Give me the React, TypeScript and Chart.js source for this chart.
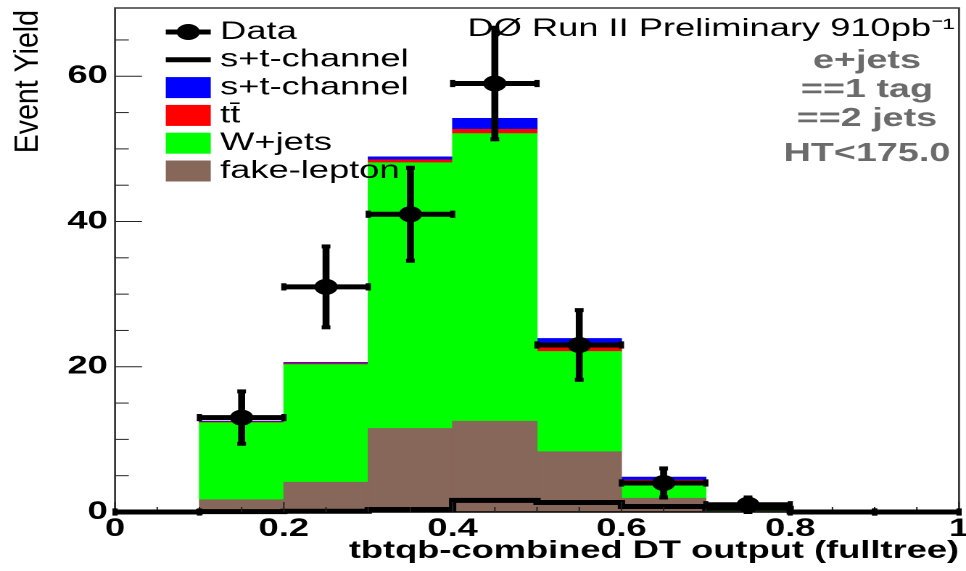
import React, { useEffect, useRef } from 'react';
import { Chart, registerables } from 'chart.js';

Chart.register(...registerables);

// ---------------- data ----------------
const binEdges = [0, 0.1, 0.2, 0.3, 0.4, 0.5, 0.6, 0.7, 0.8, 0.9, 1.0];
const binCenters = [0.05, 0.15, 0.25, 0.35, 0.45, 0.55, 0.65, 0.75, 0.85, 0.95];
const fakeLepton = [0, 1.7, 4.1, 11.5, 12.5, 8.3, 1.9, 0.1, 0, 0];
const wJets = [0, 10.6, 16.2, 36.6, 39.6, 13.8, 2.3, 0.3, 0, 0];
const ttbar = [0, 0.1, 0.15, 0.4, 0.6, 0.6, 0.2, 0.05, 0, 0];
const stChannel = [0, 0.1, 0.15, 0.4, 1.5, 1.2, 0.4, 0.25, 0, 0];
const stChannelLine = [0, 0.05, 0.1, 0.35, 1.6, 1.3, 0.75, 0.5, 0, 0];
const dataCounts = [0, 13, 31, 41, 59, 23, 4, 1, 0, 0];
const xTickValues = [0, 0.2, 0.4, 0.6, 0.8, 1];
const yTickValues = [0, 20, 40, 60];
const infoLines = ['e+jets', '==1 tag', '==2 jets', 'HT<175.0'];
const headerText = 'DØ Run II Preliminary 910pb⁻¹';
const xTitle = 'tbtqb-combined DT output (fulltree)';
const yTitle = 'Event Yield';

// ---------------- style ----------------
const CANVAS_W = 666;
const CANVAS_H = 571;
const STRETCH = 966 / CANVAS_W;
const FONT = "'Liberation Sans', Arial, Helvetica, sans-serif";
const BROWN = '#87675a';
const GREEN = '#00ff00';
const RED = '#ff0000';
const BLUE = '#0000ff';
const GRAY_TEXT = '#6b6b6b';
const Y_MAX = 69.4;

const hepPlugin = {
  id: 'hepDecor',
  afterDatasetsDraw(chart: any) {
    const { ctx, chartArea: a, scales } = chart;
    const xs = scales.x;
    const ys = scales.y;
    ctx.save();

    // axis frame
    ctx.strokeStyle = '#3a3a3a';
    ctx.lineWidth = 1.4;
    ctx.beginPath();
    ctx.moveTo(a.left, a.bottom);
    ctx.lineTo(a.left, a.top);
    ctx.lineTo(a.right, a.top);
    ctx.lineTo(a.right, a.bottom);
    ctx.stroke();
    ctx.strokeStyle = '#000';
    ctx.beginPath();
    ctx.moveTo(a.left, a.bottom);
    ctx.lineTo(a.right, a.bottom);
    ctx.stroke();

    // ticks (pointing inward)
    ctx.lineWidth = 1;
    ctx.strokeStyle = '#222';
    for (let v = 0; v <= ys.max + 1e-9; v += 5) {
      const py = ys.getPixelForValue(v);
      const len = yTickValues.includes(v) ? 18.6 : 9.5;
      ctx.beginPath();
      ctx.moveTo(a.left, py);
      ctx.lineTo(a.left + len, py);
      ctx.stroke();
    }
    for (let k = 0; k <= 20; k++) {
      const v = k * 0.05;
      const px = xs.getPixelForValue(v);
      const len = k % 4 === 0 ? 10 : 5;
      ctx.beginPath();
      ctx.moveTo(px, a.bottom);
      ctx.lineTo(px, a.bottom - len);
      ctx.stroke();
    }

    // data error bars
    ctx.fillStyle = '#000';
    ctx.strokeStyle = '#000';
    ctx.lineCap = 'butt';
    dataCounts.forEach((n, i) => {
      const xl = xs.getPixelForValue(binEdges[i]);
      const xr = xs.getPixelForValue(binEdges[i + 1]);
      const xc = xs.getPixelForValue(binCenters[i]);
      const yc = ys.getPixelForValue(n);
      const err = Math.sqrt(n);
      ctx.lineWidth = 5;
      ctx.beginPath();
      ctx.moveTo(xl, yc);
      ctx.lineTo(xr, yc);
      ctx.stroke();
      ctx.fillRect(xl - 1.8, yc - 3.6, 3.6, 7.2);
      ctx.fillRect(xr - 1.8, yc - 3.6, 3.6, 7.2);
      if (err > 0) {
        const yt = ys.getPixelForValue(n + err);
        const yb = ys.getPixelForValue(n - err);
        ctx.lineWidth = 4.8;
        ctx.beginPath();
        ctx.moveTo(xc, yt);
        ctx.lineTo(xc, yb);
        ctx.stroke();
        ctx.fillRect(xc - 3, yt - 2, 6, 4);
        ctx.fillRect(xc - 3, yb - 2, 6, 4);
      }
    });

    // legend
    const ds = chart.data.datasets;
    const legendOrder = [0, 1, 5, 4, 3, 2];
    const sx0 = a.left + 35;
    const sx1 = a.left + 66;
    const tx = a.left + 72.5;
    ctx.font = `25px ${FONT}`;
    ctx.textAlign = 'left';
    ctx.textBaseline = 'middle';
    legendOrder.forEach((di, r) => {
      const d = ds[di];
      const cy = a.top + 24 + r * 27.8;
      if (d.type === 'scatter') {
        ctx.lineWidth = 5;
        ctx.strokeStyle = '#000';
        ctx.beginPath();
        ctx.moveTo(sx0, cy);
        ctx.lineTo(sx1, cy);
        ctx.stroke();
        ctx.beginPath();
        ctx.arc((sx0 + sx1) / 2, cy, 8, 0, Math.PI * 2);
        ctx.fill();
      } else if (d.type === 'line') {
        ctx.lineWidth = 5;
        ctx.strokeStyle = d.borderColor;
        ctx.beginPath();
        ctx.moveTo(sx0, cy);
        ctx.lineTo(sx1, cy);
        ctx.stroke();
      } else {
        ctx.fillStyle = d.backgroundColor;
        ctx.fillRect(sx0, cy - 10.5, sx1 - sx0, 21);
      }
      ctx.fillStyle = '#000';
      ctx.fillText(d.label, tx, cy);
    });

    // header and info text
    ctx.textBaseline = 'alphabetic';
    ctx.textAlign = 'right';
    ctx.fillStyle = '#000';
    ctx.font = `25px ${FONT}`;
    ctx.fillText(headerText, a.right - 3, a.top + 28);
    ctx.textAlign = 'center';
    ctx.fillStyle = GRAY_TEXT;
    ctx.font = `bold 26px ${FONT}`;
    const infoBase = [60, 89, 118, 153];
    infoLines.forEach((t, i) => ctx.fillText(t, a.right - 63.5, a.top + infoBase[i]));

    // y axis title (rotated, stretched along its length)
    ctx.save();
    ctx.translate(26.2, a.top + 2);
    ctx.rotate(-Math.PI / 2);
    ctx.scale(1.24, 1);
    ctx.font = `23px ${FONT}`;
    ctx.fillStyle = '#000';
    ctx.textAlign = 'right';
    ctx.textBaseline = 'alphabetic';
    ctx.fillText(yTitle, 0, 0);
    ctx.restore();

    ctx.restore();
  },
};

const zeroPad = (s: any) => {
  s.paddingTop = 0;
  s.paddingBottom = 0;
  s.paddingLeft = 0;
  s.paddingRight = 0;
};

export default function App() {
  const ref = useRef<HTMLCanvasElement>(null);

  useEffect(() => {
    document.body.style.margin = '0';
    const canvas = ref.current;
    if (!canvas) return;

    const toXY = (vals: number[]) => binCenters.map((x, i) => ({ x, y: vals[i] }));
    const barCommon = {
      type: 'bar' as const,
      barPercentage: 1,
      categoryPercentage: 1,
      borderWidth: 0,
      borderSkipped: false,
    };

    const chart = new Chart(canvas, {
      type: 'bar',
      data: {
        datasets: [
          {
            type: 'scatter',
            label: 'Data',
            data: toXY(dataCounts),
            backgroundColor: '#000',
            borderColor: '#000',
            borderWidth: 0,
            pointRadius: dataCounts.map((v) => (v > 0 ? 8 : 0)),
            pointHoverRadius: 0,
            clip: false,
          } as any,
          {
            type: 'line',
            label: 's+t-channel',
            data: binEdges.map((x, i) => ({ x, y: stChannelLine[Math.min(i, stChannelLine.length - 1)] })),
            stepped: true,
            borderColor: '#000',
            borderWidth: 5,
            pointRadius: 0,
            fill: false,
            clip: false,
          } as any,
          { ...barCommon, label: 'fake-lepton', data: toXY(fakeLepton), backgroundColor: BROWN } as any,
          { ...barCommon, label: 'W+jets', data: toXY(wJets), backgroundColor: GREEN } as any,
          { ...barCommon, label: 'tt̄', data: toXY(ttbar), backgroundColor: RED } as any,
          { ...barCommon, label: 's+t-channel', data: toXY(stChannel), backgroundColor: BLUE } as any,
        ],
      },
      options: {
        animation: false,
        responsive: false,
        devicePixelRatio: 2,
        events: [],
        layout: {
          autoPadding: false,
          padding: { top: 8, right: CANVAS_W - 661.2, bottom: 0, left: 0 },
        },
        plugins: {
          legend: { display: false },
          tooltip: { enabled: false },
          title: { display: false },
        },
        scales: {
          x: {
            type: 'linear',
            min: 0,
            max: 1,
            offset: false,
            stacked: true,
            grid: { display: false, drawTicks: false },
            border: { display: false },
            afterFit: (s: any) => {
              s.height = 59;
              zeroPad(s);
            },
            afterBuildTicks: (s: any) => {
              s.ticks = xTickValues.map((v) => ({ value: v }));
            },
            ticks: {
              padding: 2,
              color: '#000',
              maxRotation: 0,
              autoSkip: false,
              font: { family: FONT, size: 25, weight: 'bold' },
              callback: (v: any) => String(Number(Number(v).toFixed(2))),
            },
            title: {
              display: true,
              text: xTitle,
              align: 'end',
              color: '#000',
              font: { family: FONT, size: 25, weight: 'bold' },
              padding: { top: 0, bottom: 5 },
            },
          },
          y: {
            type: 'linear',
            min: 0,
            max: Y_MAX,
            stacked: true,
            grid: { display: false, drawTicks: false },
            border: { display: false },
            afterFit: (s: any) => {
              s.width = 79.3;
              zeroPad(s);
            },
            afterBuildTicks: (s: any) => {
              s.ticks = yTickValues.map((v) => ({ value: v }));
            },
            ticks: {
              padding: 5,
              color: '#000',
              font: { family: FONT, size: 25, weight: 'bold' },
              callback: (v: any) => String(v),
            },
          },
        },
      } as any,
      plugins: [hepPlugin],
    });

    return () => chart.destroy();
  }, []);

  return (
    <div style={{ width: 966, height: 571, overflow: 'hidden', background: '#fff' }}>
      <div
        style={{
          width: CANVAS_W,
          height: CANVAS_H,
          transform: `scaleX(${STRETCH})`,
          transformOrigin: '0 0',
        }}
      >
        <canvas
          ref={ref}
          width={CANVAS_W}
          height={CANVAS_H}
          style={{ display: 'block', width: CANVAS_W, height: CANVAS_H }}
        />
      </div>
    </div>
  );
}
